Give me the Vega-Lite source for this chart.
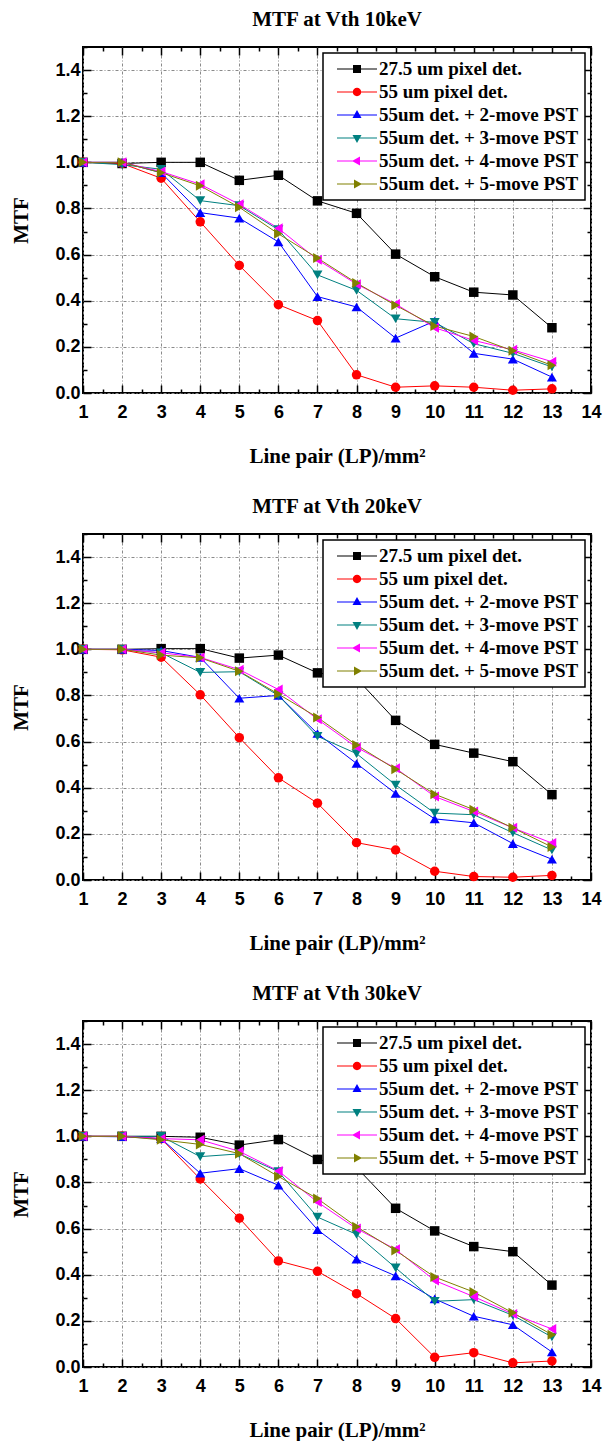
{
  "$schema": "https://vega.github.io/schema/vega-lite/v6.json",
  "padding": {"left": 9, "top": 8, "right": 2, "bottom": 0},
  "background": "white",
  "spacing": 28,
  "resolve": {"scale": {"color": "independent", "fill": "independent", "shape": "independent", "x": "independent", "y": "independent"}, "legend": {"color": "independent", "fill": "independent", "shape": "independent"}},
  "config": {
    "view": {"stroke": "black", "strokeWidth": 2},
    "axis": {"domain": false, "tickColor": "black", "tickWidth": 1.5, "gridColor": "#8a8a8a", "gridDash": [3, 2, 1, 2], "gridWidth": 1, "labelFont": "Liberation Sans", "labelFontSize": 18, "labelFontWeight": "bold", "labelColor": "black", "titleFont": "Liberation Serif", "titleFontSize": 21, "titleFontWeight": "bold", "titleColor": "black", "labelFlush": false, "labelOverlap": false},
    "title": {"font": "Liberation Serif", "fontSize": 21, "fontWeight": "bold", "color": "black", "frame": "group", "anchor": "middle", "offset": 8},
    "legend": {"strokeColor": "black", "strokeWidth": 1.5, "fillColor": "white"}
  },
  "datasets": {
    "mtf": [
      {"panel": "10", "series": "27.5 um pixel det.", "lp": 1, "mtf": 1.0},
      {"panel": "10", "series": "27.5 um pixel det.", "lp": 2, "mtf": 0.995},
      {"panel": "10", "series": "27.5 um pixel det.", "lp": 3, "mtf": 1.0},
      {"panel": "10", "series": "27.5 um pixel det.", "lp": 4, "mtf": 1.0},
      {"panel": "10", "series": "27.5 um pixel det.", "lp": 5, "mtf": 0.922},
      {"panel": "10", "series": "27.5 um pixel det.", "lp": 6, "mtf": 0.944},
      {"panel": "10", "series": "27.5 um pixel det.", "lp": 7, "mtf": 0.833},
      {"panel": "10", "series": "27.5 um pixel det.", "lp": 8, "mtf": 0.779},
      {"panel": "10", "series": "27.5 um pixel det.", "lp": 9, "mtf": 0.602},
      {"panel": "10", "series": "27.5 um pixel det.", "lp": 10, "mtf": 0.504},
      {"panel": "10", "series": "27.5 um pixel det.", "lp": 11, "mtf": 0.437},
      {"panel": "10", "series": "27.5 um pixel det.", "lp": 12, "mtf": 0.425},
      {"panel": "10", "series": "27.5 um pixel det.", "lp": 13, "mtf": 0.283},
      {"panel": "10", "series": "55 um pixel det.", "lp": 1, "mtf": 1.0},
      {"panel": "10", "series": "55 um pixel det.", "lp": 2, "mtf": 0.995},
      {"panel": "10", "series": "55 um pixel det.", "lp": 3, "mtf": 0.931},
      {"panel": "10", "series": "55 um pixel det.", "lp": 4, "mtf": 0.742},
      {"panel": "10", "series": "55 um pixel det.", "lp": 5, "mtf": 0.553},
      {"panel": "10", "series": "55 um pixel det.", "lp": 6, "mtf": 0.383},
      {"panel": "10", "series": "55 um pixel det.", "lp": 7, "mtf": 0.314},
      {"panel": "10", "series": "55 um pixel det.", "lp": 8, "mtf": 0.079},
      {"panel": "10", "series": "55 um pixel det.", "lp": 9, "mtf": 0.025},
      {"panel": "10", "series": "55 um pixel det.", "lp": 10, "mtf": 0.031},
      {"panel": "10", "series": "55 um pixel det.", "lp": 11, "mtf": 0.025},
      {"panel": "10", "series": "55 um pixel det.", "lp": 12, "mtf": 0.012},
      {"panel": "10", "series": "55 um pixel det.", "lp": 13, "mtf": 0.018},
      {"panel": "10", "series": "55um det. + 2-move PST", "lp": 1, "mtf": 1.0},
      {"panel": "10", "series": "55um det. + 2-move PST", "lp": 2, "mtf": 1.0},
      {"panel": "10", "series": "55um det. + 2-move PST", "lp": 3, "mtf": 0.955},
      {"panel": "10", "series": "55um det. + 2-move PST", "lp": 4, "mtf": 0.782},
      {"panel": "10", "series": "55um det. + 2-move PST", "lp": 5, "mtf": 0.758},
      {"panel": "10", "series": "55um det. + 2-move PST", "lp": 6, "mtf": 0.655},
      {"panel": "10", "series": "55um det. + 2-move PST", "lp": 7, "mtf": 0.418},
      {"panel": "10", "series": "55um det. + 2-move PST", "lp": 8, "mtf": 0.373},
      {"panel": "10", "series": "55um det. + 2-move PST", "lp": 9, "mtf": 0.238},
      {"panel": "10", "series": "55um det. + 2-move PST", "lp": 10, "mtf": 0.312},
      {"panel": "10", "series": "55um det. + 2-move PST", "lp": 11, "mtf": 0.172},
      {"panel": "10", "series": "55um det. + 2-move PST", "lp": 12, "mtf": 0.147},
      {"panel": "10", "series": "55um det. + 2-move PST", "lp": 13, "mtf": 0.069},
      {"panel": "10", "series": "55um det. + 3-move PST", "lp": 1, "mtf": 1.0},
      {"panel": "10", "series": "55um det. + 3-move PST", "lp": 2, "mtf": 0.99},
      {"panel": "10", "series": "55um det. + 3-move PST", "lp": 3, "mtf": 0.97},
      {"panel": "10", "series": "55um det. + 3-move PST", "lp": 4, "mtf": 0.834},
      {"panel": "10", "series": "55um det. + 3-move PST", "lp": 5, "mtf": 0.812},
      {"panel": "10", "series": "55um det. + 3-move PST", "lp": 6, "mtf": 0.708},
      {"panel": "10", "series": "55um det. + 3-move PST", "lp": 7, "mtf": 0.512},
      {"panel": "10", "series": "55um det. + 3-move PST", "lp": 8, "mtf": 0.445},
      {"panel": "10", "series": "55um det. + 3-move PST", "lp": 9, "mtf": 0.322},
      {"panel": "10", "series": "55um det. + 3-move PST", "lp": 10, "mtf": 0.306},
      {"panel": "10", "series": "55um det. + 3-move PST", "lp": 11, "mtf": 0.214},
      {"panel": "10", "series": "55um det. + 3-move PST", "lp": 12, "mtf": 0.172},
      {"panel": "10", "series": "55um det. + 3-move PST", "lp": 13, "mtf": 0.113},
      {"panel": "10", "series": "55um det. + 4-move PST", "lp": 1, "mtf": 1.0},
      {"panel": "10", "series": "55um det. + 4-move PST", "lp": 2, "mtf": 1.0},
      {"panel": "10", "series": "55um det. + 4-move PST", "lp": 3, "mtf": 0.96},
      {"panel": "10", "series": "55um det. + 4-move PST", "lp": 4, "mtf": 0.905},
      {"panel": "10", "series": "55um det. + 4-move PST", "lp": 5, "mtf": 0.818},
      {"panel": "10", "series": "55um det. + 4-move PST", "lp": 6, "mtf": 0.714},
      {"panel": "10", "series": "55um det. + 4-move PST", "lp": 7, "mtf": 0.578},
      {"panel": "10", "series": "55um det. + 4-move PST", "lp": 8, "mtf": 0.472},
      {"panel": "10", "series": "55um det. + 4-move PST", "lp": 9, "mtf": 0.386},
      {"panel": "10", "series": "55um det. + 4-move PST", "lp": 10, "mtf": 0.283},
      {"panel": "10", "series": "55um det. + 4-move PST", "lp": 11, "mtf": 0.228},
      {"panel": "10", "series": "55um det. + 4-move PST", "lp": 12, "mtf": 0.187},
      {"panel": "10", "series": "55um det. + 4-move PST", "lp": 13, "mtf": 0.136},
      {"panel": "10", "series": "55um det. + 5-move PST", "lp": 1, "mtf": 1.0},
      {"panel": "10", "series": "55um det. + 5-move PST", "lp": 2, "mtf": 1.0},
      {"panel": "10", "series": "55um det. + 5-move PST", "lp": 3, "mtf": 0.955},
      {"panel": "10", "series": "55um det. + 5-move PST", "lp": 4, "mtf": 0.898},
      {"panel": "10", "series": "55um det. + 5-move PST", "lp": 5, "mtf": 0.805},
      {"panel": "10", "series": "55um det. + 5-move PST", "lp": 6, "mtf": 0.69},
      {"panel": "10", "series": "55um det. + 5-move PST", "lp": 7, "mtf": 0.585},
      {"panel": "10", "series": "55um det. + 5-move PST", "lp": 8, "mtf": 0.477},
      {"panel": "10", "series": "55um det. + 5-move PST", "lp": 9, "mtf": 0.38},
      {"panel": "10", "series": "55um det. + 5-move PST", "lp": 10, "mtf": 0.29},
      {"panel": "10", "series": "55um det. + 5-move PST", "lp": 11, "mtf": 0.245},
      {"panel": "10", "series": "55um det. + 5-move PST", "lp": 12, "mtf": 0.183},
      {"panel": "10", "series": "55um det. + 5-move PST", "lp": 13, "mtf": 0.12},
      {"panel": "20", "series": "27.5 um pixel det.", "lp": 1, "mtf": 1.0},
      {"panel": "20", "series": "27.5 um pixel det.", "lp": 2, "mtf": 1.0},
      {"panel": "20", "series": "27.5 um pixel det.", "lp": 3, "mtf": 1.003},
      {"panel": "20", "series": "27.5 um pixel det.", "lp": 4, "mtf": 1.003},
      {"panel": "20", "series": "27.5 um pixel det.", "lp": 5, "mtf": 0.962},
      {"panel": "20", "series": "27.5 um pixel det.", "lp": 6, "mtf": 0.975},
      {"panel": "20", "series": "27.5 um pixel det.", "lp": 7, "mtf": 0.898},
      {"panel": "20", "series": "27.5 um pixel det.", "lp": 8, "mtf": 0.874},
      {"panel": "20", "series": "27.5 um pixel det.", "lp": 9, "mtf": 0.692},
      {"panel": "20", "series": "27.5 um pixel det.", "lp": 10, "mtf": 0.588},
      {"panel": "20", "series": "27.5 um pixel det.", "lp": 11, "mtf": 0.55},
      {"panel": "20", "series": "27.5 um pixel det.", "lp": 12, "mtf": 0.513},
      {"panel": "20", "series": "27.5 um pixel det.", "lp": 13, "mtf": 0.37},
      {"panel": "20", "series": "55 um pixel det.", "lp": 1, "mtf": 1.0},
      {"panel": "20", "series": "55 um pixel det.", "lp": 2, "mtf": 0.998},
      {"panel": "20", "series": "55 um pixel det.", "lp": 3, "mtf": 0.966},
      {"panel": "20", "series": "55 um pixel det.", "lp": 4, "mtf": 0.803},
      {"panel": "20", "series": "55 um pixel det.", "lp": 5, "mtf": 0.617},
      {"panel": "20", "series": "55 um pixel det.", "lp": 6, "mtf": 0.443},
      {"panel": "20", "series": "55 um pixel det.", "lp": 7, "mtf": 0.333},
      {"panel": "20", "series": "55 um pixel det.", "lp": 8, "mtf": 0.162},
      {"panel": "20", "series": "55 um pixel det.", "lp": 9, "mtf": 0.13},
      {"panel": "20", "series": "55 um pixel det.", "lp": 10, "mtf": 0.038},
      {"panel": "20", "series": "55 um pixel det.", "lp": 11, "mtf": 0.015},
      {"panel": "20", "series": "55 um pixel det.", "lp": 12, "mtf": 0.012},
      {"panel": "20", "series": "55 um pixel det.", "lp": 13, "mtf": 0.02},
      {"panel": "20", "series": "55um det. + 2-move PST", "lp": 1, "mtf": 1.0},
      {"panel": "20", "series": "55um det. + 2-move PST", "lp": 2, "mtf": 1.0},
      {"panel": "20", "series": "55um det. + 2-move PST", "lp": 3, "mtf": 0.995},
      {"panel": "20", "series": "55um det. + 2-move PST", "lp": 4, "mtf": 0.965},
      {"panel": "20", "series": "55um det. + 2-move PST", "lp": 5, "mtf": 0.788},
      {"panel": "20", "series": "55um det. + 2-move PST", "lp": 6, "mtf": 0.8},
      {"panel": "20", "series": "55um det. + 2-move PST", "lp": 7, "mtf": 0.635},
      {"panel": "20", "series": "55um det. + 2-move PST", "lp": 8, "mtf": 0.505},
      {"panel": "20", "series": "55um det. + 2-move PST", "lp": 9, "mtf": 0.375},
      {"panel": "20", "series": "55um det. + 2-move PST", "lp": 10, "mtf": 0.265},
      {"panel": "20", "series": "55um det. + 2-move PST", "lp": 11, "mtf": 0.248},
      {"panel": "20", "series": "55um det. + 2-move PST", "lp": 12, "mtf": 0.158},
      {"panel": "20", "series": "55um det. + 2-move PST", "lp": 13, "mtf": 0.09},
      {"panel": "20", "series": "55um det. + 3-move PST", "lp": 1, "mtf": 1.0},
      {"panel": "20", "series": "55um det. + 3-move PST", "lp": 2, "mtf": 1.0},
      {"panel": "20", "series": "55um det. + 3-move PST", "lp": 3, "mtf": 0.985},
      {"panel": "20", "series": "55um det. + 3-move PST", "lp": 4, "mtf": 0.9},
      {"panel": "20", "series": "55um det. + 3-move PST", "lp": 5, "mtf": 0.903},
      {"panel": "20", "series": "55um det. + 3-move PST", "lp": 6, "mtf": 0.8},
      {"panel": "20", "series": "55um det. + 3-move PST", "lp": 7, "mtf": 0.623},
      {"panel": "20", "series": "55um det. + 3-move PST", "lp": 8, "mtf": 0.548},
      {"panel": "20", "series": "55um det. + 3-move PST", "lp": 9, "mtf": 0.412},
      {"panel": "20", "series": "55um det. + 3-move PST", "lp": 10, "mtf": 0.29},
      {"panel": "20", "series": "55um det. + 3-move PST", "lp": 11, "mtf": 0.283},
      {"panel": "20", "series": "55um det. + 3-move PST", "lp": 12, "mtf": 0.205},
      {"panel": "20", "series": "55um det. + 3-move PST", "lp": 13, "mtf": 0.13},
      {"panel": "20", "series": "55um det. + 4-move PST", "lp": 1, "mtf": 1.0},
      {"panel": "20", "series": "55um det. + 4-move PST", "lp": 2, "mtf": 1.0},
      {"panel": "20", "series": "55um det. + 4-move PST", "lp": 3, "mtf": 0.985},
      {"panel": "20", "series": "55um det. + 4-move PST", "lp": 4, "mtf": 0.965},
      {"panel": "20", "series": "55um det. + 4-move PST", "lp": 5, "mtf": 0.912},
      {"panel": "20", "series": "55um det. + 4-move PST", "lp": 6, "mtf": 0.826},
      {"panel": "20", "series": "55um det. + 4-move PST", "lp": 7, "mtf": 0.697},
      {"panel": "20", "series": "55um det. + 4-move PST", "lp": 8, "mtf": 0.575},
      {"panel": "20", "series": "55um det. + 4-move PST", "lp": 9, "mtf": 0.485},
      {"panel": "20", "series": "55um det. + 4-move PST", "lp": 10, "mtf": 0.362},
      {"panel": "20", "series": "55um det. + 4-move PST", "lp": 11, "mtf": 0.297},
      {"panel": "20", "series": "55um det. + 4-move PST", "lp": 12, "mtf": 0.226},
      {"panel": "20", "series": "55um det. + 4-move PST", "lp": 13, "mtf": 0.16},
      {"panel": "20", "series": "55um det. + 5-move PST", "lp": 1, "mtf": 1.0},
      {"panel": "20", "series": "55um det. + 5-move PST", "lp": 2, "mtf": 1.0},
      {"panel": "20", "series": "55um det. + 5-move PST", "lp": 3, "mtf": 0.975},
      {"panel": "20", "series": "55um det. + 5-move PST", "lp": 4, "mtf": 0.963},
      {"panel": "20", "series": "55um det. + 5-move PST", "lp": 5, "mtf": 0.905},
      {"panel": "20", "series": "55um det. + 5-move PST", "lp": 6, "mtf": 0.806},
      {"panel": "20", "series": "55um det. + 5-move PST", "lp": 7, "mtf": 0.705},
      {"panel": "20", "series": "55um det. + 5-move PST", "lp": 8, "mtf": 0.585},
      {"panel": "20", "series": "55um det. + 5-move PST", "lp": 9, "mtf": 0.48},
      {"panel": "20", "series": "55um det. + 5-move PST", "lp": 10, "mtf": 0.372},
      {"panel": "20", "series": "55um det. + 5-move PST", "lp": 11, "mtf": 0.305},
      {"panel": "20", "series": "55um det. + 5-move PST", "lp": 12, "mtf": 0.226},
      {"panel": "20", "series": "55um det. + 5-move PST", "lp": 13, "mtf": 0.143},
      {"panel": "30", "series": "27.5 um pixel det.", "lp": 1, "mtf": 1.0},
      {"panel": "30", "series": "27.5 um pixel det.", "lp": 2, "mtf": 1.0},
      {"panel": "30", "series": "27.5 um pixel det.", "lp": 3, "mtf": 1.0},
      {"panel": "30", "series": "27.5 um pixel det.", "lp": 4, "mtf": 0.996},
      {"panel": "30", "series": "27.5 um pixel det.", "lp": 5, "mtf": 0.962},
      {"panel": "30", "series": "27.5 um pixel det.", "lp": 6, "mtf": 0.986},
      {"panel": "30", "series": "27.5 um pixel det.", "lp": 7, "mtf": 0.9},
      {"panel": "30", "series": "27.5 um pixel det.", "lp": 8, "mtf": 0.865},
      {"panel": "30", "series": "27.5 um pixel det.", "lp": 9, "mtf": 0.688},
      {"panel": "30", "series": "27.5 um pixel det.", "lp": 10, "mtf": 0.59},
      {"panel": "30", "series": "27.5 um pixel det.", "lp": 11, "mtf": 0.522},
      {"panel": "30", "series": "27.5 um pixel det.", "lp": 12, "mtf": 0.5},
      {"panel": "30", "series": "27.5 um pixel det.", "lp": 13, "mtf": 0.355},
      {"panel": "30", "series": "55 um pixel det.", "lp": 1, "mtf": 1.0},
      {"panel": "30", "series": "55 um pixel det.", "lp": 2, "mtf": 1.0},
      {"panel": "30", "series": "55 um pixel det.", "lp": 3, "mtf": 0.99},
      {"panel": "30", "series": "55 um pixel det.", "lp": 4, "mtf": 0.815},
      {"panel": "30", "series": "55 um pixel det.", "lp": 5, "mtf": 0.645},
      {"panel": "30", "series": "55 um pixel det.", "lp": 6, "mtf": 0.46},
      {"panel": "30", "series": "55 um pixel det.", "lp": 7, "mtf": 0.415},
      {"panel": "30", "series": "55 um pixel det.", "lp": 8, "mtf": 0.318},
      {"panel": "30", "series": "55 um pixel det.", "lp": 9, "mtf": 0.21},
      {"panel": "30", "series": "55 um pixel det.", "lp": 10, "mtf": 0.042},
      {"panel": "30", "series": "55 um pixel det.", "lp": 11, "mtf": 0.062},
      {"panel": "30", "series": "55 um pixel det.", "lp": 12, "mtf": 0.018},
      {"panel": "30", "series": "55 um pixel det.", "lp": 13, "mtf": 0.026},
      {"panel": "30", "series": "55um det. + 2-move PST", "lp": 1, "mtf": 1.0},
      {"panel": "30", "series": "55um det. + 2-move PST", "lp": 2, "mtf": 0.998},
      {"panel": "30", "series": "55um det. + 2-move PST", "lp": 3, "mtf": 0.99},
      {"panel": "30", "series": "55um det. + 2-move PST", "lp": 4, "mtf": 0.84},
      {"panel": "30", "series": "55um det. + 2-move PST", "lp": 5, "mtf": 0.86},
      {"panel": "30", "series": "55um det. + 2-move PST", "lp": 6, "mtf": 0.788},
      {"panel": "30", "series": "55um det. + 2-move PST", "lp": 7, "mtf": 0.595},
      {"panel": "30", "series": "55um det. + 2-move PST", "lp": 8, "mtf": 0.468},
      {"panel": "30", "series": "55um det. + 2-move PST", "lp": 9, "mtf": 0.395},
      {"panel": "30", "series": "55um det. + 2-move PST", "lp": 10, "mtf": 0.295},
      {"panel": "30", "series": "55um det. + 2-move PST", "lp": 11, "mtf": 0.22},
      {"panel": "30", "series": "55um det. + 2-move PST", "lp": 12, "mtf": 0.183},
      {"panel": "30", "series": "55um det. + 2-move PST", "lp": 13, "mtf": 0.065},
      {"panel": "30", "series": "55um det. + 3-move PST", "lp": 1, "mtf": 1.0},
      {"panel": "30", "series": "55um det. + 3-move PST", "lp": 2, "mtf": 1.0},
      {"panel": "30", "series": "55um det. + 3-move PST", "lp": 3, "mtf": 1.0},
      {"panel": "30", "series": "55um det. + 3-move PST", "lp": 4, "mtf": 0.912},
      {"panel": "30", "series": "55um det. + 3-move PST", "lp": 5, "mtf": 0.924},
      {"panel": "30", "series": "55um det. + 3-move PST", "lp": 6, "mtf": 0.847},
      {"panel": "30", "series": "55um det. + 3-move PST", "lp": 7, "mtf": 0.65},
      {"panel": "30", "series": "55um det. + 3-move PST", "lp": 8, "mtf": 0.575},
      {"panel": "30", "series": "55um det. + 3-move PST", "lp": 9, "mtf": 0.43},
      {"panel": "30", "series": "55um det. + 3-move PST", "lp": 10, "mtf": 0.285},
      {"panel": "30", "series": "55um det. + 3-move PST", "lp": 11, "mtf": 0.292},
      {"panel": "30", "series": "55um det. + 3-move PST", "lp": 12, "mtf": 0.224},
      {"panel": "30", "series": "55um det. + 3-move PST", "lp": 13, "mtf": 0.13},
      {"panel": "30", "series": "55um det. + 4-move PST", "lp": 1, "mtf": 1.0},
      {"panel": "30", "series": "55um det. + 4-move PST", "lp": 2, "mtf": 1.0},
      {"panel": "30", "series": "55um det. + 4-move PST", "lp": 3, "mtf": 0.99},
      {"panel": "30", "series": "55um det. + 4-move PST", "lp": 4, "mtf": 0.985},
      {"panel": "30", "series": "55um det. + 4-move PST", "lp": 5, "mtf": 0.935},
      {"panel": "30", "series": "55um det. + 4-move PST", "lp": 6, "mtf": 0.85},
      {"panel": "30", "series": "55um det. + 4-move PST", "lp": 7, "mtf": 0.715},
      {"panel": "30", "series": "55um det. + 4-move PST", "lp": 8, "mtf": 0.6},
      {"panel": "30", "series": "55um det. + 4-move PST", "lp": 9, "mtf": 0.51},
      {"panel": "30", "series": "55um det. + 4-move PST", "lp": 10, "mtf": 0.375},
      {"panel": "30", "series": "55um det. + 4-move PST", "lp": 11, "mtf": 0.305},
      {"panel": "30", "series": "55um det. + 4-move PST", "lp": 12, "mtf": 0.23},
      {"panel": "30", "series": "55um det. + 4-move PST", "lp": 13, "mtf": 0.165},
      {"panel": "30", "series": "55um det. + 5-move PST", "lp": 1, "mtf": 1.0},
      {"panel": "30", "series": "55um det. + 5-move PST", "lp": 2, "mtf": 1.0},
      {"panel": "30", "series": "55um det. + 5-move PST", "lp": 3, "mtf": 0.985},
      {"panel": "30", "series": "55um det. + 5-move PST", "lp": 4, "mtf": 0.965},
      {"panel": "30", "series": "55um det. + 5-move PST", "lp": 5, "mtf": 0.925},
      {"panel": "30", "series": "55um det. + 5-move PST", "lp": 6, "mtf": 0.826},
      {"panel": "30", "series": "55um det. + 5-move PST", "lp": 7, "mtf": 0.73},
      {"panel": "30", "series": "55um det. + 5-move PST", "lp": 8, "mtf": 0.608},
      {"panel": "30", "series": "55um det. + 5-move PST", "lp": 9, "mtf": 0.505},
      {"panel": "30", "series": "55um det. + 5-move PST", "lp": 10, "mtf": 0.39},
      {"panel": "30", "series": "55um det. + 5-move PST", "lp": 11, "mtf": 0.325},
      {"panel": "30", "series": "55um det. + 5-move PST", "lp": 12, "mtf": 0.235},
      {"panel": "30", "series": "55um det. + 5-move PST", "lp": 13, "mtf": 0.14}
    ]
  },
  "vconcat": [
    {
      "title": "MTF at Vth 10keV",
      "width": 508, "height": 346,
      "data": {"name": "mtf"},
      "transform": [{"filter": "datum.panel == '10'"}],
      "encoding": {
        "x": {"field": "lp", "type": "quantitative", "scale": {"domain": [1, 14], "nice": false, "zero": false}, "axis": null},
        "y": {"field": "mtf", "type": "quantitative", "scale": {"domain": [0, 1.5], "nice": false}, "axis": null},
        "color": {"field": "series", "type": "nominal", "scale": {"range": ["#000000", "#ff0000", "#0000ff", "#008080", "#ff00ff", "#808000"]}, "legend": null}
      },
      "layer": [
        {"mark": {"type": "line", "strokeWidth": 1},
         "encoding": {
           "x": {"field": "lp", "type": "quantitative",
                 "axis": {"title": "Line pair (LP)/mm²", "values": [1,1.5,2,2.5,3,3.5,4,4.5,5,5.5,6,6.5,7,7.5,8,8.5,9,9.5,10,10.5,11,11.5,12,12.5,13,13.5,14],
                          "labelExpr": "datum.value % 1 === 0 ? format(datum.value, 'd') : ''", "labelPadding": 18,
                          "tickSize": {"condition": {"test": "datum.value % 1 !== 0", "value": -4}, "value": -8},
                          "gridOpacity": {"condition": {"test": "datum.value % 1 !== 0", "value": 0}, "value": 1},
                          "titlePadding": 20}},
           "y": {"field": "mtf", "type": "quantitative",
                 "axis": {"title": "MTF", "values": [0,0.1,0.2,0.3,0.4,0.5,0.6,0.7,0.8,0.9,1.0,1.1,1.2,1.3,1.4,1.5],
                          "labelExpr": "round(datum.value*10) % 2 === 0 ? format(datum.value, '.1f') : ''", "labelPadding": 11,
                          "tickSize": {"condition": {"test": "round(datum.value*10) % 2 !== 0", "value": -4}, "value": -8},
                          "gridOpacity": {"condition": {"test": "round(datum.value*10) % 2 !== 0", "value": 0}, "value": 1},
                          "titlePadding": 23}}
         }},
        {"transform": [{"filter": "datum.series == '27.5 um pixel det.'"}], "mark": {"type": "point", "filled": true, "opacity": 1, "size": 90, "shape": "square"}},
        {"transform": [{"filter": "datum.series == '55 um pixel det.'"}], "mark": {"type": "point", "filled": true, "opacity": 1, "size": 90, "shape": "circle"}},
        {"transform": [{"filter": "datum.series == '55um det. + 2-move PST'"}], "mark": {"type": "point", "filled": true, "opacity": 1, "size": 100, "shape": "triangle-up"}},
        {"transform": [{"filter": "datum.series == '55um det. + 3-move PST'"}], "mark": {"type": "point", "filled": true, "opacity": 1, "size": 100, "shape": "triangle-down"}},
        {"transform": [{"filter": "datum.series == '55um det. + 4-move PST'"}], "mark": {"type": "point", "filled": true, "opacity": 1, "size": 100, "shape": "triangle-left"}},
        {"transform": [{"filter": "datum.series == '55um det. + 5-move PST'"}], "mark": {"type": "point", "filled": true, "opacity": 1, "size": 100, "shape": "triangle-right"}},
        {"mark": {"type": "point", "filled": true, "opacity": 0},
         "encoding": {
           "x": {"field": "lp", "type": "quantitative",
                 "axis": {"orient": "top", "title": null, "labels": false, "grid": false, "values": [1,1.5,2,2.5,3,3.5,4,4.5,5,5.5,6,6.5,7,7.5,8,8.5,9,9.5,10,10.5,11,11.5,12,12.5,13,13.5,14],
                          "tickSize": {"condition": {"test": "datum.value % 1 !== 0", "value": -4}, "value": -8}}},
           "y": {"field": "mtf", "type": "quantitative",
                 "axis": {"orient": "right", "title": null, "labels": false, "grid": false, "values": [0,0.1,0.2,0.3,0.4,0.5,0.6,0.7,0.8,0.9,1.0,1.1,1.2,1.3,1.4,1.5],
                          "tickSize": {"condition": {"test": "round(datum.value*10) % 2 !== 0", "value": -4}, "value": -8}}},
           "fill": {"field": "series", "type": "nominal", "scale": {"domain": ["27.5 um pixel det.", "55 um pixel det.", "55um det. + 2-move PST", "55um det. + 3-move PST", "55um det. + 4-move PST", "55um det. + 5-move PST"], "range": ["#000000", "#ff0000", "#0000ff", "#008080", "#ff00ff", "#808000"]},
                    "legend": {"title": null, "orient": "top-right", "offset": 6, "symbolSize": 400, "symbolStrokeWidth": 0, "symbolOffset": 18, "labelOffset": 12, "labelFont": "Liberation Serif", "labelFontSize": 19, "labelFontWeight": "bold", "labelColor": "black", "labelLimit": 400, "padding": 6, "rowPadding": 3, "symbolOpacity": 1}},
           "shape": {"field": "series", "type": "nominal", "scale": {"domain": ["27.5 um pixel det.", "55 um pixel det.", "55um det. + 2-move PST", "55um det. + 3-move PST", "55um det. + 4-move PST", "55um det. + 5-move PST"], "range": ["M-2,-0.06H2V0.06H-2ZM-0.4,-0.4H0.4V0.4H-0.4Z", "M-2,-0.06H2V0.06H-2ZM0.42,0A0.42,0.42 0 1,1 -0.42,0A0.42,0.42 0 1,1 0.42,0Z", "M-2,-0.06H2V0.06H-2ZM0,-0.5L0.45,0.3H-0.45Z", "M-2,-0.06H2V0.06H-2ZM0,0.5L-0.45,-0.3H0.45Z", "M-2,-0.06H2V0.06H-2ZM-0.5,0L0.3,-0.45V0.45Z", "M-2,-0.06H2V0.06H-2ZM0.5,0L-0.3,0.45V-0.45Z"]},
                     "legend": {"title": null, "orient": "top-right", "offset": 6, "symbolSize": 400, "symbolStrokeWidth": 0, "symbolOffset": 18, "labelOffset": 12, "labelFont": "Liberation Serif", "labelFontSize": 19, "labelFontWeight": "bold", "labelColor": "black", "labelLimit": 400, "padding": 6, "rowPadding": 3, "symbolOpacity": 1}}
         }}
      ],
      "resolve": {"axis": {"x": "independent", "y": "independent"}}
    },
    {
      "title": "MTF at Vth 20keV",
      "width": 508, "height": 346,
      "data": {"name": "mtf"},
      "transform": [{"filter": "datum.panel == '20'"}],
      "encoding": {
        "x": {"field": "lp", "type": "quantitative", "scale": {"domain": [1, 14], "nice": false, "zero": false}, "axis": null},
        "y": {"field": "mtf", "type": "quantitative", "scale": {"domain": [0, 1.5], "nice": false}, "axis": null},
        "color": {"field": "series", "type": "nominal", "scale": {"range": ["#000000", "#ff0000", "#0000ff", "#008080", "#ff00ff", "#808000"]}, "legend": null}
      },
      "layer": [
        {"mark": {"type": "line", "strokeWidth": 1},
         "encoding": {
           "x": {"field": "lp", "type": "quantitative",
                 "axis": {"title": "Line pair (LP)/mm²", "values": [1,1.5,2,2.5,3,3.5,4,4.5,5,5.5,6,6.5,7,7.5,8,8.5,9,9.5,10,10.5,11,11.5,12,12.5,13,13.5,14],
                          "labelExpr": "datum.value % 1 === 0 ? format(datum.value, 'd') : ''", "labelPadding": 18,
                          "tickSize": {"condition": {"test": "datum.value % 1 !== 0", "value": -4}, "value": -8},
                          "gridOpacity": {"condition": {"test": "datum.value % 1 !== 0", "value": 0}, "value": 1},
                          "titlePadding": 20}},
           "y": {"field": "mtf", "type": "quantitative",
                 "axis": {"title": "MTF", "values": [0,0.1,0.2,0.3,0.4,0.5,0.6,0.7,0.8,0.9,1.0,1.1,1.2,1.3,1.4,1.5],
                          "labelExpr": "round(datum.value*10) % 2 === 0 ? format(datum.value, '.1f') : ''", "labelPadding": 11,
                          "tickSize": {"condition": {"test": "round(datum.value*10) % 2 !== 0", "value": -4}, "value": -8},
                          "gridOpacity": {"condition": {"test": "round(datum.value*10) % 2 !== 0", "value": 0}, "value": 1},
                          "titlePadding": 23}}
         }},
        {"transform": [{"filter": "datum.series == '27.5 um pixel det.'"}], "mark": {"type": "point", "filled": true, "opacity": 1, "size": 90, "shape": "square"}},
        {"transform": [{"filter": "datum.series == '55 um pixel det.'"}], "mark": {"type": "point", "filled": true, "opacity": 1, "size": 90, "shape": "circle"}},
        {"transform": [{"filter": "datum.series == '55um det. + 2-move PST'"}], "mark": {"type": "point", "filled": true, "opacity": 1, "size": 100, "shape": "triangle-up"}},
        {"transform": [{"filter": "datum.series == '55um det. + 3-move PST'"}], "mark": {"type": "point", "filled": true, "opacity": 1, "size": 100, "shape": "triangle-down"}},
        {"transform": [{"filter": "datum.series == '55um det. + 4-move PST'"}], "mark": {"type": "point", "filled": true, "opacity": 1, "size": 100, "shape": "triangle-left"}},
        {"transform": [{"filter": "datum.series == '55um det. + 5-move PST'"}], "mark": {"type": "point", "filled": true, "opacity": 1, "size": 100, "shape": "triangle-right"}},
        {"mark": {"type": "point", "filled": true, "opacity": 0},
         "encoding": {
           "x": {"field": "lp", "type": "quantitative",
                 "axis": {"orient": "top", "title": null, "labels": false, "grid": false, "values": [1,1.5,2,2.5,3,3.5,4,4.5,5,5.5,6,6.5,7,7.5,8,8.5,9,9.5,10,10.5,11,11.5,12,12.5,13,13.5,14],
                          "tickSize": {"condition": {"test": "datum.value % 1 !== 0", "value": -4}, "value": -8}}},
           "y": {"field": "mtf", "type": "quantitative",
                 "axis": {"orient": "right", "title": null, "labels": false, "grid": false, "values": [0,0.1,0.2,0.3,0.4,0.5,0.6,0.7,0.8,0.9,1.0,1.1,1.2,1.3,1.4,1.5],
                          "tickSize": {"condition": {"test": "round(datum.value*10) % 2 !== 0", "value": -4}, "value": -8}}},
           "fill": {"field": "series", "type": "nominal", "scale": {"domain": ["27.5 um pixel det.", "55 um pixel det.", "55um det. + 2-move PST", "55um det. + 3-move PST", "55um det. + 4-move PST", "55um det. + 5-move PST"], "range": ["#000000", "#ff0000", "#0000ff", "#008080", "#ff00ff", "#808000"]},
                    "legend": {"title": null, "orient": "top-right", "offset": 6, "symbolSize": 400, "symbolStrokeWidth": 0, "symbolOffset": 18, "labelOffset": 12, "labelFont": "Liberation Serif", "labelFontSize": 19, "labelFontWeight": "bold", "labelColor": "black", "labelLimit": 400, "padding": 6, "rowPadding": 3, "symbolOpacity": 1}},
           "shape": {"field": "series", "type": "nominal", "scale": {"domain": ["27.5 um pixel det.", "55 um pixel det.", "55um det. + 2-move PST", "55um det. + 3-move PST", "55um det. + 4-move PST", "55um det. + 5-move PST"], "range": ["M-2,-0.06H2V0.06H-2ZM-0.4,-0.4H0.4V0.4H-0.4Z", "M-2,-0.06H2V0.06H-2ZM0.42,0A0.42,0.42 0 1,1 -0.42,0A0.42,0.42 0 1,1 0.42,0Z", "M-2,-0.06H2V0.06H-2ZM0,-0.5L0.45,0.3H-0.45Z", "M-2,-0.06H2V0.06H-2ZM0,0.5L-0.45,-0.3H0.45Z", "M-2,-0.06H2V0.06H-2ZM-0.5,0L0.3,-0.45V0.45Z", "M-2,-0.06H2V0.06H-2ZM0.5,0L-0.3,0.45V-0.45Z"]},
                     "legend": {"title": null, "orient": "top-right", "offset": 6, "symbolSize": 400, "symbolStrokeWidth": 0, "symbolOffset": 18, "labelOffset": 12, "labelFont": "Liberation Serif", "labelFontSize": 19, "labelFontWeight": "bold", "labelColor": "black", "labelLimit": 400, "padding": 6, "rowPadding": 3, "symbolOpacity": 1}}
         }}
      ],
      "resolve": {"axis": {"x": "independent", "y": "independent"}}
    },
    {
      "title": "MTF at Vth 30keV",
      "width": 508, "height": 346,
      "data": {"name": "mtf"},
      "transform": [{"filter": "datum.panel == '30'"}],
      "encoding": {
        "x": {"field": "lp", "type": "quantitative", "scale": {"domain": [1, 14], "nice": false, "zero": false}, "axis": null},
        "y": {"field": "mtf", "type": "quantitative", "scale": {"domain": [0, 1.5], "nice": false}, "axis": null},
        "color": {"field": "series", "type": "nominal", "scale": {"range": ["#000000", "#ff0000", "#0000ff", "#008080", "#ff00ff", "#808000"]}, "legend": null}
      },
      "layer": [
        {"mark": {"type": "line", "strokeWidth": 1},
         "encoding": {
           "x": {"field": "lp", "type": "quantitative",
                 "axis": {"title": "Line pair (LP)/mm²", "values": [1,1.5,2,2.5,3,3.5,4,4.5,5,5.5,6,6.5,7,7.5,8,8.5,9,9.5,10,10.5,11,11.5,12,12.5,13,13.5,14],
                          "labelExpr": "datum.value % 1 === 0 ? format(datum.value, 'd') : ''", "labelPadding": 18,
                          "tickSize": {"condition": {"test": "datum.value % 1 !== 0", "value": -4}, "value": -8},
                          "gridOpacity": {"condition": {"test": "datum.value % 1 !== 0", "value": 0}, "value": 1},
                          "titlePadding": 20}},
           "y": {"field": "mtf", "type": "quantitative",
                 "axis": {"title": "MTF", "values": [0,0.1,0.2,0.3,0.4,0.5,0.6,0.7,0.8,0.9,1.0,1.1,1.2,1.3,1.4,1.5],
                          "labelExpr": "round(datum.value*10) % 2 === 0 ? format(datum.value, '.1f') : ''", "labelPadding": 11,
                          "tickSize": {"condition": {"test": "round(datum.value*10) % 2 !== 0", "value": -4}, "value": -8},
                          "gridOpacity": {"condition": {"test": "round(datum.value*10) % 2 !== 0", "value": 0}, "value": 1},
                          "titlePadding": 23}}
         }},
        {"transform": [{"filter": "datum.series == '27.5 um pixel det.'"}], "mark": {"type": "point", "filled": true, "opacity": 1, "size": 90, "shape": "square"}},
        {"transform": [{"filter": "datum.series == '55 um pixel det.'"}], "mark": {"type": "point", "filled": true, "opacity": 1, "size": 90, "shape": "circle"}},
        {"transform": [{"filter": "datum.series == '55um det. + 2-move PST'"}], "mark": {"type": "point", "filled": true, "opacity": 1, "size": 100, "shape": "triangle-up"}},
        {"transform": [{"filter": "datum.series == '55um det. + 3-move PST'"}], "mark": {"type": "point", "filled": true, "opacity": 1, "size": 100, "shape": "triangle-down"}},
        {"transform": [{"filter": "datum.series == '55um det. + 4-move PST'"}], "mark": {"type": "point", "filled": true, "opacity": 1, "size": 100, "shape": "triangle-left"}},
        {"transform": [{"filter": "datum.series == '55um det. + 5-move PST'"}], "mark": {"type": "point", "filled": true, "opacity": 1, "size": 100, "shape": "triangle-right"}},
        {"mark": {"type": "point", "filled": true, "opacity": 0},
         "encoding": {
           "x": {"field": "lp", "type": "quantitative",
                 "axis": {"orient": "top", "title": null, "labels": false, "grid": false, "values": [1,1.5,2,2.5,3,3.5,4,4.5,5,5.5,6,6.5,7,7.5,8,8.5,9,9.5,10,10.5,11,11.5,12,12.5,13,13.5,14],
                          "tickSize": {"condition": {"test": "datum.value % 1 !== 0", "value": -4}, "value": -8}}},
           "y": {"field": "mtf", "type": "quantitative",
                 "axis": {"orient": "right", "title": null, "labels": false, "grid": false, "values": [0,0.1,0.2,0.3,0.4,0.5,0.6,0.7,0.8,0.9,1.0,1.1,1.2,1.3,1.4,1.5],
                          "tickSize": {"condition": {"test": "round(datum.value*10) % 2 !== 0", "value": -4}, "value": -8}}},
           "fill": {"field": "series", "type": "nominal", "scale": {"domain": ["27.5 um pixel det.", "55 um pixel det.", "55um det. + 2-move PST", "55um det. + 3-move PST", "55um det. + 4-move PST", "55um det. + 5-move PST"], "range": ["#000000", "#ff0000", "#0000ff", "#008080", "#ff00ff", "#808000"]},
                    "legend": {"title": null, "orient": "top-right", "offset": 6, "symbolSize": 400, "symbolStrokeWidth": 0, "symbolOffset": 18, "labelOffset": 12, "labelFont": "Liberation Serif", "labelFontSize": 19, "labelFontWeight": "bold", "labelColor": "black", "labelLimit": 400, "padding": 6, "rowPadding": 3, "symbolOpacity": 1}},
           "shape": {"field": "series", "type": "nominal", "scale": {"domain": ["27.5 um pixel det.", "55 um pixel det.", "55um det. + 2-move PST", "55um det. + 3-move PST", "55um det. + 4-move PST", "55um det. + 5-move PST"], "range": ["M-2,-0.06H2V0.06H-2ZM-0.4,-0.4H0.4V0.4H-0.4Z", "M-2,-0.06H2V0.06H-2ZM0.42,0A0.42,0.42 0 1,1 -0.42,0A0.42,0.42 0 1,1 0.42,0Z", "M-2,-0.06H2V0.06H-2ZM0,-0.5L0.45,0.3H-0.45Z", "M-2,-0.06H2V0.06H-2ZM0,0.5L-0.45,-0.3H0.45Z", "M-2,-0.06H2V0.06H-2ZM-0.5,0L0.3,-0.45V0.45Z", "M-2,-0.06H2V0.06H-2ZM0.5,0L-0.3,0.45V-0.45Z"]},
                     "legend": {"title": null, "orient": "top-right", "offset": 6, "symbolSize": 400, "symbolStrokeWidth": 0, "symbolOffset": 18, "labelOffset": 12, "labelFont": "Liberation Serif", "labelFontSize": 19, "labelFontWeight": "bold", "labelColor": "black", "labelLimit": 400, "padding": 6, "rowPadding": 3, "symbolOpacity": 1}}
         }}
      ],
      "resolve": {"axis": {"x": "independent", "y": "independent"}}
    }
  ]
}
